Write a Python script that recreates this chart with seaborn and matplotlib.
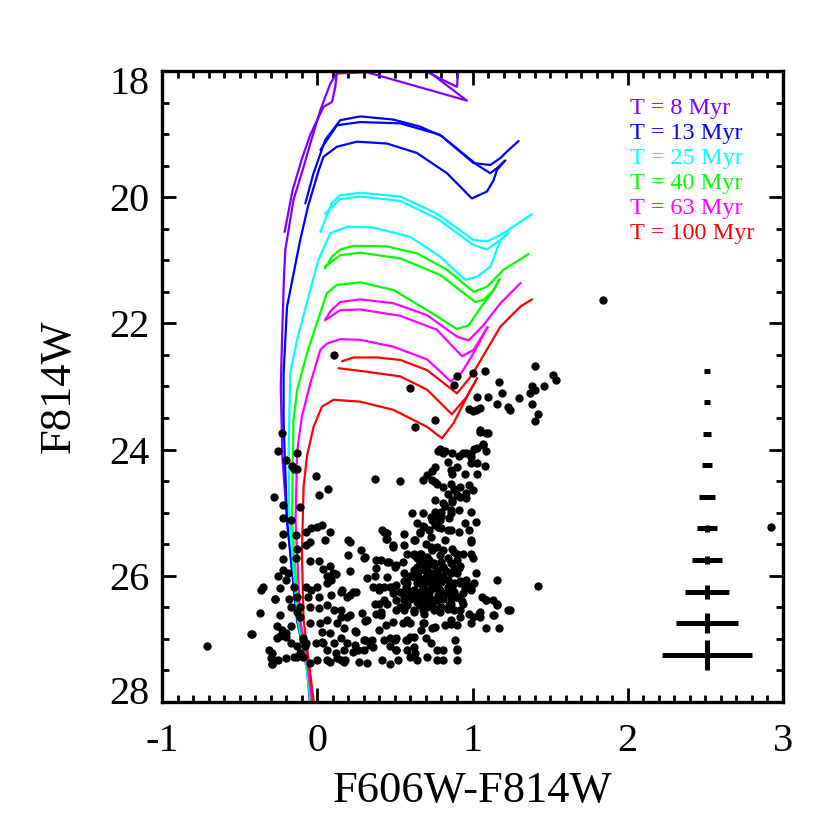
#!/usr/bin/env python3
"""
cmd_isochrones.py
F814W vs F606W-F814W colour-magnitude diagram: observed stars, isochrones
for 8-100 Myr, and the binned photometric errors on the right.

Output:
  out.png
"""

import pandas as pd
import seaborn as sns
import matplotlib.pyplot as plt
from matplotlib.ticker import MultipleLocator
from matplotlib.transforms import ScaledTranslation

AGE_LABELS = ["T = 8 Myr", "T = 13 Myr", "T = 25 Myr",
              "T = 40 Myr", "T = 63 Myr", "T = 100 Myr"]
AGE_COLORS = ["#8000FF", "#0000FF", "#00FFFF",
              "#00FF00", "#FF00FF", "#FF0000"]

# isochrones, (colour, mag) along each track
iso8_main = [(-0.03, 28.05), (-0.06, 27.5), (-0.13, 26.7), (-0.195, 25.12),
             (-0.225, 24.1), (-0.235, 23.0), (-0.227, 22.26), (-0.215, 21.3),
             (-0.206, 20.84), (-0.153, 20.04), (-0.088, 19.52),
             (-0.045, 19.15), (0.02, 18.62), (0.084, 18.2), (0.127, 18.04),
             (0.32, 18.02), (0.964, 18.47), (0.83, 18.22), (0.66, 17.9)]
iso8_b = [(-0.21, 20.55), (-0.16, 19.9), (-0.1, 19.4), (-0.045, 19.01),
          (0.04, 18.57), (0.095, 18.49), (0.116, 18.25), (0.13, 17.95)]
iso8_c = [(0.62, 17.9), (0.79, 18.12), (0.9, 18.25), (0.91, 17.9)]

iso13_main = [(-0.045, 28.05), (-0.066, 27.49), (-0.13, 26.7),
              (-0.195, 25.12), (-0.217, 23.53), (-0.217, 22.79),
              (-0.195, 21.74), (-0.11, 20.68), (-0.06, 20.15),
              (0.01, 19.57), (0.04, 19.36), (0.127, 19.2), (0.256, 19.12),
              (0.449, 19.15), (0.642, 19.3), (0.835, 19.62), (0.996, 20.02),
              (1.093, 19.91), (1.136, 19.73), (1.157, 19.57), (1.21, 19.42)]
iso13_a = [(-0.077, 20.1), (-0.024, 19.62), (0.052, 19.09), (0.148, 18.78),
           (0.277, 18.72), (0.49, 18.77), (0.66, 18.88), (0.8, 19.03),
           (1.007, 19.46), (1.114, 19.49), (1.18, 19.38), (1.22, 19.28),
           (1.297, 19.11)]
iso13_b = [(0.02, 19.25), (0.127, 18.86), (0.277, 18.81), (0.535, 18.83),
           (0.79, 19.01), (1.03, 19.49), (1.114, 19.62), (1.157, 19.54),
           (1.21, 19.42)]

iso25_main = [(-0.04, 28.05), (-0.07, 27.45), (-0.125, 26.7), (-0.18, 25.1),
              (-0.185, 24.11), (-0.174, 22.79), (-0.13, 22.26),
              (-0.045, 21.47), (0.006, 21.0), (0.084, 20.57), (0.19, 20.47),
              (0.36, 20.48), (0.6, 20.63), (0.79, 20.94), (0.953, 21.31),
              (1.03, 21.26), (1.115, 21.1), (1.18, 20.68), (1.232, 20.56)]
iso25_a = [(0.02, 20.55), (0.095, 20.09), (0.148, 19.97), (0.277, 19.93),
           (0.535, 19.99), (0.77, 20.26), (1.007, 20.68), (1.093, 20.7),
           (1.18, 20.6), (1.383, 20.27)]
iso25_b = [(0.05, 20.26), (0.148, 20.03), (0.277, 19.99), (0.535, 20.06),
           (0.78, 20.35), (1.0, 20.75), (1.093, 20.83), (1.18, 20.68),
           (1.232, 20.56)]

iso40_main = [(-0.035, 28.05), (-0.066, 27.4), (-0.12, 26.7), (-0.163, 25.12),
              (-0.153, 23.53), (-0.13, 23.06), (-0.066, 22.47), (0.01, 21.9),
              (0.062, 21.52), (0.127, 21.39), (0.277, 21.35), (0.49, 21.47),
              (0.707, 21.79), (0.9, 22.09), (0.975, 22.03), (1.05, 21.76),
              (1.136, 21.47), (1.174, 21.3)]
iso40_a = [(0.05, 21.13), (0.095, 20.94), (0.148, 20.83), (0.234, 20.77),
           (0.449, 20.78), (0.642, 20.89), (0.835, 21.15), (1.007, 21.5),
           (1.093, 21.42), (1.2, 21.15), (1.361, 20.9)]
iso40_b = [(0.05, 21.1), (0.148, 20.92), (0.277, 20.88), (0.535, 20.97),
           (0.79, 21.23), (1.018, 21.66), (1.07, 21.63), (1.136, 21.47),
           (1.174, 21.3)]

iso63_main = [(-0.03, 28.05), (-0.066, 27.33), (-0.11, 26.7), (-0.14, 25.12),
              (-0.13, 24.06), (-0.12, 23.85), (-0.099, 23.48),
              (-0.045, 22.95), (0.02, 22.42), (0.062, 22.32), (0.148, 22.25),
              (0.277, 22.26), (0.49, 22.37), (0.707, 22.57), (0.86, 22.92),
              (0.93, 22.78), (1.0, 22.5), (1.097, 22.06)]
iso63_a = [(0.05, 21.95), (0.084, 21.81), (0.148, 21.66), (0.277, 21.62),
           (0.49, 21.68), (0.707, 21.87), (0.9, 22.21), (0.975, 22.27),
           (1.07, 22.03), (1.18, 21.68), (1.31, 21.36)]
iso63_b = [(0.05, 21.95), (0.148, 21.79), (0.277, 21.78), (0.535, 21.88),
           (0.77, 22.1), (0.932, 22.52), (1.007, 22.42), (1.097, 22.06)]

iso100_main = [(-0.02, 28.05), (-0.056, 27.33), (-0.088, 26.7),
               (-0.099, 25.64), (-0.088, 24.59), (-0.066, 24.1),
               (-0.024, 23.64), (0.03, 23.32), (0.105, 23.21), (0.277, 23.24),
               (0.49, 23.37), (0.707, 23.64), (0.803, 23.82), (0.878, 23.58),
               (0.985, 23.06), (1.03, 22.87)]
iso100_a = [(0.159, 22.6), (0.234, 22.54), (0.384, 22.54), (0.535, 22.58),
            (0.707, 22.74), (0.9, 23.11), (0.996, 22.82), (1.18, 22.05),
            (1.31, 21.73), (1.383, 21.62)]
iso100_b = [(0.137, 22.71), (0.3, 22.76), (0.535, 22.84), (0.707, 23.05),
            (0.867, 23.44), (0.964, 23.16), (1.03, 22.87)]

ISOCHRONES = [
    [iso8_main, iso8_b, iso8_c],
    [iso13_main, iso13_a, iso13_b],
    [iso25_main, iso25_a, iso25_b],
    [iso40_main, iso40_a, iso40_b],
    [iso63_main, iso63_a, iso63_b],
    [iso100_main, iso100_a, iso100_b],
]

stars_upper = [
    (0.11, 22.50), (0.60, 23.03), (0.63, 23.64), (0.76, 23.53), (0.88, 22.98),
    (0.90, 22.83), (1.00, 22.78), (1.08, 22.76), (1.17, 22.93), (1.19, 23.10),
    (1.03, 23.17), (1.10, 23.16), (1.16, 23.28), (1.23, 23.33), (1.24, 23.37),
    (1.30, 23.19), (0.98, 23.36), (1.00, 23.39), (1.02, 23.37), (1.05, 23.34),
    (1.05, 23.69), (1.10, 23.73), (1.07, 23.91), (0.79, 23.99), (1.01, 23.99),
    (1.40, 22.68), (1.38, 23.00), (1.40, 23.05), (1.37, 23.10), (1.46, 23.00),
    (1.52, 22.82), (1.54, 22.90), (1.38, 23.28), (1.42, 23.44), (1.40, 23.55),
]
stars_rgb = [
    (0.81, 24.06), (0.87, 24.05), (0.91, 24.10), (0.94, 24.05), (0.99, 24.06),
    (1.03, 23.98), (1.07, 23.93), (1.09, 24.03), (0.99, 24.22), (1.03, 24.22),
    (1.08, 24.26), (0.76, 24.27), (0.84, 24.19), (0.86, 24.33), (0.74, 24.34),
    (0.71, 24.40), (0.68, 24.48), (0.74, 24.48), (0.76, 24.51), (0.87, 24.38),
    (0.90, 24.27), (0.95, 24.38), (1.03, 24.39), (1.05, 23.72), (1.09, 23.74),
    (0.37, 24.47), (0.53, 24.50), (0.81, 24.59), (0.86, 24.54), (0.88, 24.62),
    (0.92, 24.59), (0.98, 24.56), (1.00, 24.64), (0.84, 24.70), (0.90, 24.72),
    (0.96, 24.77), (0.76, 24.80), (0.81, 24.85), (0.87, 24.83), (0.91, 24.96),
    (0.86, 24.96), (0.80, 24.99), (0.76, 24.99), (0.99, 24.99), (0.61, 25.00),
    (0.68, 25.01), (0.74, 25.12), (0.79, 25.12), (0.85, 25.09), (0.95, 25.17),
    (1.02, 25.14), (0.82, 24.90), (0.87, 24.80), (0.92, 24.75), (0.96, 24.69),
    (0.89, 24.64), (0.77, 24.54), (0.64, 25.17), (0.69, 25.22), (0.73, 25.07),
    (0.76, 25.04), (0.80, 25.06), (0.86, 25.01), (0.78, 25.22), (0.84, 25.28),
    (0.99, 24.12), (0.78, 24.03), (0.82, 24.02), (0.96, 24.06),
]
stars_core = [
    (0.43, 25.30), (0.45, 25.32), (0.45, 25.42), (0.56, 25.33), (0.68, 25.21),
    (0.66, 25.32), (0.63, 25.43), (0.72, 25.28), (0.76, 25.20), (0.80, 25.25),
    (0.86, 25.28), (0.91, 25.30), (0.98, 25.28), (0.99, 25.46), (0.49, 25.54),
    (0.58, 25.65), (0.62, 25.65), (0.67, 25.65), (0.73, 25.54), (0.77, 25.54),
    (0.81, 25.59), (0.87, 25.57), (0.90, 25.65), (0.94, 25.65), (0.82, 25.43),
    (0.38, 25.88), (0.41, 25.75), (0.46, 25.78), (0.51, 25.83), (0.45, 26.02),
    (0.40, 26.17), (0.43, 26.17), (0.49, 26.17), (0.56, 25.96), (0.58, 26.12),
    (0.62, 26.02), (0.64, 25.86), (0.68, 25.88), (0.72, 25.75), (0.75, 25.83),
    (0.77, 25.94), (0.81, 25.86), (0.86, 25.80), (0.90, 25.75), (0.91, 25.88),
    (0.74, 26.02), (0.68, 26.07), (0.64, 26.12), (0.78, 26.12), (0.84, 26.07),
    (0.87, 26.17), (0.92, 26.12), (0.96, 26.07), (1.01, 26.12), (0.99, 26.20),
    (1.16, 26.06), (0.74, 26.20), (0.68, 26.20), (0.40, 26.44), (0.45, 26.44),
    (0.41, 26.62), (0.51, 26.54), (0.56, 26.39), (0.60, 26.33), (0.64, 26.39),
    (0.68, 26.33), (0.73, 26.44), (0.77, 26.39), (0.81, 26.33), (0.86, 26.39),
    (0.90, 26.33), (0.94, 26.44), (0.56, 26.54), (0.62, 26.57), (0.68, 26.54),
    (0.77, 26.52), (0.84, 26.52), (0.92, 26.54), (0.98, 26.60), (1.05, 26.57),
    (1.09, 26.39), (1.13, 26.38), (1.16, 26.45), (1.23, 26.54), (0.49, 26.73),
    (0.58, 26.70), (0.68, 26.74), (0.76, 26.81), (0.86, 26.76), (0.90, 26.78),
    (1.00, 26.65), (1.05, 26.65), (1.14, 26.62), (1.09, 26.83), (0.43, 27.02),
    (0.47, 26.99), (0.51, 27.18), (0.57, 27.02), (0.62, 27.13), (0.63, 27.23),
    (0.70, 26.99), (0.73, 27.07), (0.77, 27.18), (0.81, 27.18), (0.89, 27.02),
    (0.90, 27.16), (0.51, 26.99), (0.60, 26.97), (0.42, 27.34), (0.47, 27.39),
    (0.52, 27.34), (0.60, 27.28), (0.64, 27.34), (0.71, 27.28), (0.77, 27.34),
    (0.81, 27.34), (0.90, 27.34), (0.62, 25.67), (0.66, 25.65), (0.71, 25.70),
    (0.74, 25.59), (0.79, 25.67), (0.75, 25.80), (0.71, 25.86), (0.66, 25.91),
    (0.73, 25.96), (0.77, 25.91), (0.81, 25.86), (0.86, 25.96), (0.90, 25.96),
    (0.81, 26.01), (0.77, 26.07), (0.73, 26.12), (0.69, 26.12), (0.64, 26.04),
    (0.60, 26.01), (0.56, 26.09), (0.51, 26.15), (0.47, 26.17), (0.40, 26.23),
    (0.58, 26.23), (0.62, 26.28), (0.66, 26.25), (0.71, 26.23), (0.75, 26.20),
    (0.79, 26.23), (0.84, 26.17), (0.88, 26.12), (0.92, 26.09), (0.96, 26.12),
    (0.99, 26.23), (0.94, 26.28), (0.90, 26.33), (0.86, 26.30), (0.81, 26.36),
    (0.77, 26.38), (0.73, 26.36), (0.69, 26.38), (0.64, 26.41), (0.60, 26.36),
    (0.56, 26.33), (0.51, 26.38), (0.49, 26.28), (0.53, 26.49), (0.58, 26.46),
    (0.62, 26.54), (0.71, 26.49), (0.75, 26.54), (0.80, 26.49), (0.85, 26.46),
    (0.88, 26.54), (0.69, 26.60), (0.66, 25.80), (0.62, 25.91), (0.70, 25.49),
    (0.73, 25.38), (0.66, 25.30), (0.62, 25.43), (0.42, 25.28), (0.44, 25.41),
    (0.49, 25.51), (0.56, 25.51), (0.38, 25.75), (0.45, 25.78), (0.50, 25.86),
    (0.55, 25.78), (0.99, 25.43), (0.99, 25.65), (1.00, 25.72), (1.02, 25.96),
    (1.06, 26.33), (1.09, 26.38), (1.16, 26.46), (1.04, 26.60), (1.13, 26.62),
    (1.24, 26.54), (1.17, 26.82), (0.99, 26.75), (0.92, 26.65), (0.86, 26.70),
    (0.82, 26.78), (0.74, 26.83), (0.67, 26.86), (0.62, 26.97), (0.58, 27.02),
    (0.50, 27.02), (0.47, 27.12), (0.90, 27.18), (0.58, 27.18), (0.51, 27.18),
    (0.44, 26.78), (0.40, 26.86), (0.38, 26.60), (0.43, 26.38), (0.37, 26.44),
    (0.36, 26.17), (0.37, 26.01), (0.41, 26.57), (0.55, 26.75), (0.60, 26.75),
    (0.69, 26.75), (0.65, 26.00), (0.70, 26.02), (0.75, 26.05), (0.80, 26.10),
    (0.85, 26.20), (0.88, 26.25), (0.83, 26.27), (0.78, 26.30), (0.72, 26.28),
    (0.67, 26.30), (0.62, 26.22), (0.57, 26.18), (0.53, 26.25), (0.70, 25.92),
    (0.78, 25.98), (0.83, 25.93), (0.88, 25.88), (0.84, 25.72), (0.80, 25.78),
    (0.69, 25.76), (0.64, 25.72), (0.86, 26.45), (0.74, 26.44), (0.66, 26.47),
    (0.79, 26.58), (0.93, 26.40), (0.95, 26.20), (0.92, 25.85), (0.88, 25.62),
]
stars_left = [
    (-0.25, 24.03), (-0.13, 24.05), (-0.20, 24.17), (-0.16, 24.26),
    (-0.13, 24.30), (-0.23, 23.73), (-0.01, 24.42), (-0.28, 24.75),
    (-0.22, 24.88), (-0.22, 25.09), (-0.11, 24.91), (0.01, 24.72),
    (0.07, 24.63), (-0.17, 25.11), (-0.22, 25.33), (-0.14, 25.35),
    (-0.23, 25.51), (-0.13, 25.58), (-0.22, 25.73), (-0.14, 25.71),
    (-0.07, 25.30), (-0.04, 25.25), (0.00, 25.22), (0.03, 25.19),
    (0.08, 25.31), (0.05, 25.43), (-0.05, 25.46), (-0.07, 25.51),
    (-0.05, 25.77), (0.01, 25.77), (0.08, 25.85), (0.04, 25.90),
    (0.12, 25.97), (0.06, 26.01), (0.21, 25.47), (0.20, 25.67),
    (0.28, 25.59), (0.30, 25.71), (0.21, 25.92), (0.32, 26.04),
    (-0.22, 25.91), (-0.19, 25.96), (-0.25, 26.01), (-0.24, 26.20),
    (-0.20, 26.07), (-0.35, 26.17), (-0.36, 26.22), (-0.15, 26.17),
    (-0.07, 26.17), (-0.04, 26.22), (0.00, 26.17), (-0.06, 26.33),
    (0.01, 26.33), (0.06, 26.12), (0.09, 26.07), (0.09, 26.30),
    (0.15, 26.25), (0.19, 26.33), (0.23, 26.25), (-0.27, 26.36),
    (-0.18, 26.36), (-0.13, 26.33), (-0.11, 26.49), (-0.17, 26.49),
    (-0.13, 26.57), (-0.37, 26.59), (-0.24, 26.62), (-0.11, 26.65),
    (-0.05, 26.49), (0.01, 26.51), (0.06, 26.46), (0.11, 26.54),
    (0.15, 26.54), (0.19, 26.65), (0.29, 26.59), (0.32, 26.70),
    (-0.05, 26.75), (0.02, 26.75), (0.06, 26.70), (0.13, 26.75),
    (0.17, 26.83), (0.24, 26.88), (0.31, 26.72), (-0.26, 26.80),
    (-0.23, 26.86), (-0.20, 26.91), (-0.17, 26.80), (-0.24, 26.96),
    (-0.42, 26.92), (-0.17, 27.07), (-0.13, 27.11), (-0.09, 27.01),
    (-0.08, 27.12), (-0.01, 27.07), (0.04, 27.06), (0.06, 27.17),
    (0.11, 27.07), (0.12, 27.23), (0.17, 27.17), (0.24, 27.10),
    (0.30, 27.02), (0.34, 27.10), (-0.31, 27.17), (-0.29, 27.23),
    (-0.30, 27.31), (-0.25, 27.33), (-0.20, 27.31), (-0.13, 27.28),
    (-0.11, 27.23), (-0.05, 27.38), (0.00, 27.34), (0.06, 27.33),
    (0.13, 27.31), (0.17, 27.36), (0.23, 27.20), (0.27, 27.36),
    (0.32, 27.38), (-0.29, 27.39), (0.16, 26.23), (0.21, 26.31),
    (0.25, 26.25), (0.21, 26.62), (0.15, 26.65), (0.25, 26.89),
    (0.26, 27.18), (0.31, 27.02), (0.35, 27.02), (0.36, 27.13),
    (0.30, 27.18), (0.03, 26.89), (0.08, 26.91), (0.03, 27.05),
    (0.15, 26.99), (0.19, 27.07), (-0.09, 26.99), (-0.07, 27.07),
    (-0.26, 26.99), (-0.20, 26.97), (-0.28, 27.34), (-0.15, 27.28),
    (-0.09, 27.28), (0.08, 27.36), (0.15, 27.34), (0.18, 27.34),
    (0.20, 25.43), (0.31, 25.70), (0.10, 25.96), (0.07, 26.02),
    (-0.43, 26.93), (-0.27, 26.37), (-0.29, 27.40), (-0.15, 24.31),
]
stars_outliers = [(-0.71, 27.11), (2.92, 25.23), (1.42, 26.16), (1.84, 21.63)]

# photometric errors per magnitude bin
err_mag = [22.75, 23.25, 23.75, 24.25, 24.75, 25.25, 25.75, 26.25, 26.75, 27.25]
err_color = [0.018, 0.02, 0.026, 0.035, 0.05, 0.066, 0.097, 0.14, 0.20, 0.289]
err_magerr = [0.02, 0.02, 0.02, 0.03, 0.03, 0.06, 0.07, 0.11, 0.16, 0.24]
ERR_X = 2.51

SERIF = ["Liberation Serif", "DejaVu Serif"]


def frame(pts):
    return pd.DataFrame(pts, columns=["color", "mag"])


def main():
    sns.set_style("ticks")
    plt.rcParams["font.family"] = SERIF
    plt.rcParams["axes.unicode_minus"] = False
    for k in ("text.color", "axes.labelcolor", "xtick.color", "ytick.color",
              "axes.edgecolor"):
        plt.rcParams[k] = "black"

    fig = plt.figure(figsize=(8.3, 8.3), dpi=100)
    ax = fig.add_axes([0.1952, 0.1542, 0.7482, 0.7603])

    for col, curves in zip(AGE_COLORS, ISOCHRONES):
        for pts in curves:
            sns.lineplot(data=frame(pts), x="color", y="mag", sort=False,
                         estimator=None, color=col, lw=1.6, ax=ax)

    stars = frame(stars_upper + stars_rgb + stars_core + stars_left
                  + stars_outliers)
    sns.scatterplot(data=stars, x="color", y="mag", color="black", s=36,
                    linewidth=0, ax=ax, zorder=3)

    bars = ax.errorbar([ERR_X] * len(err_mag), err_mag, xerr=err_color,
                       yerr=err_magerr, fmt="none", ecolor="black",
                       elinewidth=3.6, capsize=0)
    for lc in bars[2]:
        lc.set_capstyle("butt")

    for i, (lab, col) in enumerate(zip(AGE_LABELS, AGE_COLORS)):
        ax.text(0.754, 0.941 - 0.0396 * i, lab, color=col, fontsize=17.5,
                va="center", ha="left", transform=ax.transAxes)

    ax.set_xlim(-1, 3)
    ax.set_ylim(28, 18)
    ax.set_xticks([-1, 0, 1, 2, 3])
    ax.set_yticks([18, 20, 22, 24, 26, 28])
    ax.xaxis.set_minor_locator(MultipleLocator(0.1))
    ax.yaxis.set_minor_locator(MultipleLocator(0.5))
    ax.tick_params(which="both", direction="in", top=True, right=True,
                   width=2, color="black", labelcolor="black")
    ax.tick_params(which="major", length=10, labelsize=29)
    ax.tick_params(which="minor", length=5)
    ax.tick_params(axis="x", which="major", pad=15)
    ax.tick_params(axis="y", which="major", pad=9)
    for s in ax.spines.values():
        s.set_linewidth(2.4)
        s.set_color("black")

    ax.set_xlabel("F606W-F814W", fontsize=32, labelpad=8, color="black")
    ax.set_ylabel("F814W", fontsize=32, labelpad=22, color="black")

    # end labels of the magnitude axis sit inside the frame
    fig.canvas.draw()
    for t in ax.get_yticklabels():
        if t.get_text() == "18":
            t.set_transform(t.get_transform()
                            + ScaledTranslation(0, -0.09, fig.dpi_scale_trans))
        elif t.get_text() == "28":
            t.set_transform(t.get_transform()
                            + ScaledTranslation(0, 0.12, fig.dpi_scale_trans))

    fig.savefig("out.png", dpi=100, facecolor="white")
    plt.close(fig)


if __name__ == "__main__":
    main()
